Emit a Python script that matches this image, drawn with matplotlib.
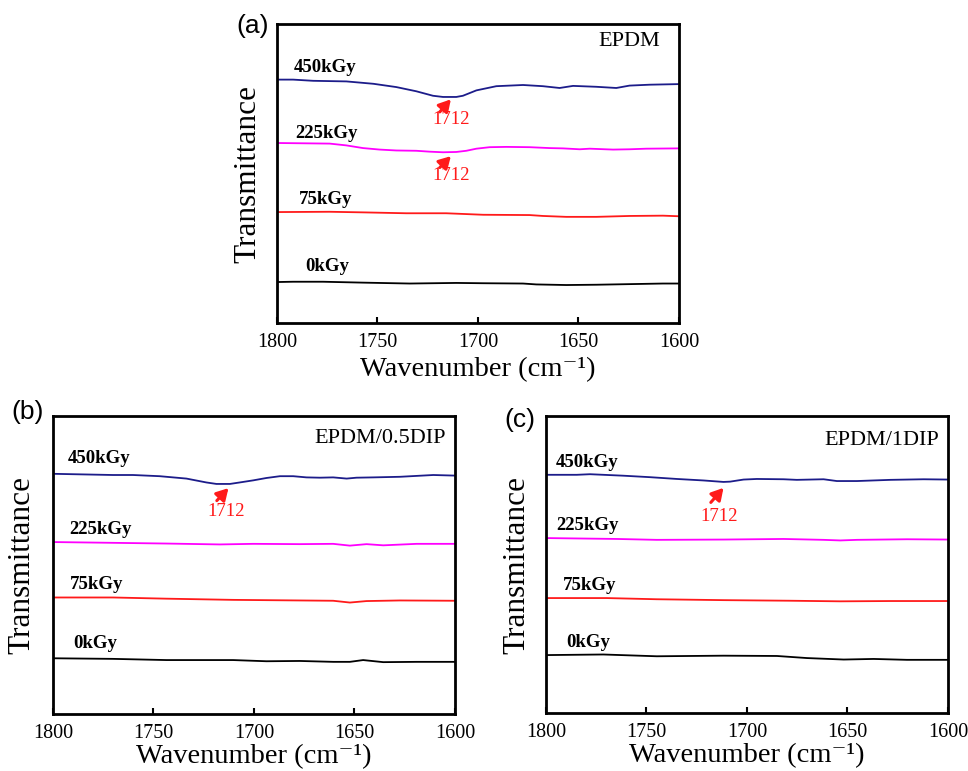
import matplotlib
matplotlib.use("Agg")
import matplotlib.pyplot as plt

# ---------------- data ----------------
doses = ["450kGy", "225kGy", "75kGy", "0kGy"]
colors = ["#1c1c8a", "#ff00ff", "#ff1a1a", "#000000"]

# Panel (a) EPDM
a_450_x = [1800, 1792, 1782, 1765.5, 1752, 1740.6, 1730.7, 1722.4, 1717.4, 1710.8, 1707.5, 1700.8, 1690.9, 1677.6, 1667.7, 1659.4, 1652.7, 1641.1, 1631.2, 1624.6, 1614.6, 1600]
a_450_y = [81.4, 81.4, 81.0, 80.8, 80.0, 78.9, 77.5, 76.0, 75.6, 75.6, 76.0, 77.8, 79.2, 79.6, 79.2, 78.6, 79.3, 79.0, 78.6, 79.4, 79.7, 79.9]
a_225_x = [1800, 1773.8, 1765.5, 1757.2, 1748.9, 1740.6, 1730.7, 1724.0, 1717.4, 1710.8, 1705.8, 1700.8, 1694.2, 1685.9, 1674.3, 1664.3, 1657.7, 1649.4, 1644.4, 1632.8, 1624.6, 1616.3, 1600]
a_225_y = [60.2, 60.0, 59.4, 58.5, 58.0, 57.7, 57.6, 57.3, 57.1, 57.2, 57.6, 58.3, 58.8, 58.9, 58.8, 58.5, 58.4, 58.1, 58.3, 58.0, 58.1, 58.3, 58.4]
a_75_x = [1800, 1773.8, 1757.2, 1735.7, 1715.8, 1697.5, 1674.3, 1667.7, 1656.1, 1641.1, 1624.6, 1608.0, 1600]
a_75_y = [37.1, 37.2, 37.0, 36.7, 36.7, 36.2, 36.1, 35.8, 35.5, 35.5, 35.8, 35.9, 35.7]
a_0_x = [1800, 1792, 1777.1, 1757.2, 1734.0, 1710.8, 1697.5, 1677.6, 1671.0, 1656.1, 1641.1, 1624.6, 1608.0, 1600]
a_0_y = [13.7, 13.8, 13.8, 13.5, 13.2, 13.4, 13.3, 13.2, 12.9, 12.7, 12.8, 13.0, 13.2, 13.2]

# Panel (b) EPDM/0.5DIP
b_450_x = [1800, 1785.1, 1770.1, 1760.2, 1746.9, 1733.6, 1723.7, 1718.7, 1712.0, 1707.1, 1700.4, 1693.8, 1687.1, 1680.5, 1673.9, 1667.2, 1660.6, 1653.9, 1649.0, 1640.7, 1627.4, 1610.8, 1600]
b_450_y = [80.6, 80.4, 80.2, 80.2, 79.8, 79.0, 77.7, 77.2, 77.2, 77.7, 78.4, 79.2, 79.8, 79.8, 79.4, 79.3, 79.4, 79.0, 79.3, 79.4, 79.6, 80.2, 80.0]
b_225_x = [1800, 1776.8, 1743.6, 1717.0, 1700.4, 1677.2, 1660.6, 1652.3, 1644.0, 1635.7, 1619.1, 1600]
b_225_y = [57.7, 57.5, 57.2, 56.9, 57.1, 57.0, 57.1, 56.5, 57.0, 56.6, 57.1, 57.1]
b_75_x = [1800, 1770.1, 1743.6, 1710.4, 1677.2, 1660.6, 1652.3, 1644.0, 1627.4, 1600]
b_75_y = [39.1, 39.1, 38.7, 38.3, 38.1, 38.0, 37.4, 37.9, 38.1, 38.0]
b_0_x = [1800, 1770.1, 1743.6, 1710.4, 1693.8, 1677.2, 1660.6, 1652.3, 1645.7, 1635.7, 1619.1, 1600]
b_0_y = [18.7, 18.5, 18.1, 18.1, 17.7, 17.8, 17.5, 17.5, 18.1, 17.4, 17.5, 17.5]

# Panel (c) EPDM/1DIP
c_450_x = [1800, 1784.7, 1778.1, 1761.5, 1748.2, 1734.9, 1721.7, 1711.7, 1708.4, 1701.7, 1695.1, 1681.8, 1675.2, 1661.9, 1655.3, 1645.3, 1628.7, 1612.1, 1600]
c_450_y = [80.2, 80.2, 80.4, 79.9, 79.4, 78.8, 78.3, 77.8, 77.9, 78.6, 78.8, 78.7, 78.5, 78.7, 78.1, 78.1, 78.5, 78.7, 78.6]
c_225_x = [1800, 1764.8, 1744.9, 1711.7, 1681.8, 1661.9, 1653.6, 1645.3, 1620.4, 1600]
c_225_y = [58.9, 58.6, 58.3, 58.4, 58.6, 58.3, 58.1, 58.3, 58.5, 58.4]
c_75_x = [1800, 1769.8, 1744.9, 1711.7, 1678.5, 1653.6, 1628.7, 1600]
c_75_y = [38.7, 38.7, 38.3, 38.0, 37.8, 37.6, 37.7, 37.7]
c_0_x = [1800, 1771.5, 1744.9, 1711.7, 1685.1, 1670.2, 1651.9, 1637.0, 1620.4, 1600]
c_0_y = [19.5, 19.7, 19.1, 19.3, 19.2, 18.5, 18.0, 18.2, 17.9, 17.9]

xticks = [1800, 1750, 1700, 1650, 1600]

panels = [
    dict(letter="(a)", sample="EPDM",
         xs=[a_450_x, a_225_x, a_75_x, a_0_x], ys=[a_450_y, a_225_y, a_75_y, a_0_y],
         labpos=[(1791.7, 85.3), (1790.9, 63.5), (1789.0, 41.2), (1786.0, 19.0)],
         samplepos=(1609.6, 94.2),
         ann=[((1719.0, 70.6), (1713.5, 74.8), (1713.3, 68.0)),
              ((1719.0, 52.0), (1713.5, 55.8), (1713.3, 49.4))],
         rect=[277/968, 1-323/771, 402/968, 299/771], letterpos=(253, 26),
         ylx=-0.072, xly=-0.178),
    dict(letter="(b)", sample="EPDM/0.5DIP",
         xs=[b_450_x, b_225_x, b_75_x, b_0_x], ys=[b_450_y, b_225_y, b_75_y, b_0_y],
         labpos=[(1792.5, 85.7), (1792.0, 62.0), (1791.4, 43.5), (1789.7, 23.7)],
         samplepos=(1604.5, 92.4),
         ann=[((1718.5, 71.6), (1712.7, 75.8), (1714.0, 68.0))],
         rect=[53/968, 1-714/771, 402/968, 298/771], letterpos=(28, 412),
         ylx=-0.078, xly=-0.165),
    dict(letter="(c)", sample="EPDM/1DIP",
         xs=[c_450_x, c_225_x, c_75_x, c_0_x], ys=[c_450_y, c_225_y, c_75_y, c_0_y],
         labpos=[(1795.0, 84.3), (1794.7, 63.1), (1791.4, 42.9), (1790.0, 23.9)],
         samplepos=(1604.6, 91.7),
         ann=[((1718.0, 70.9), (1711.7, 75.8), (1713.7, 66.1))],
         rect=[546/968, 1-713/771, 402/968, 297/771], letterpos=(520, 420),
         ylx=-0.072, xly=-0.165),
]

serif = ["Liberation Serif", "DejaVu Serif"]
sans = ["Liberation Sans", "DejaVu Sans"]

fig = plt.figure(figsize=(9.68, 7.71), dpi=100)

for p in panels:
    ax = fig.add_axes(p["rect"])
    for x, y, c in zip(p["xs"], p["ys"], colors):
        ax.plot(x, y, color=c, lw=1.3)
    ax.set_xlim(1800, 1600)
    ax.set_ylim(0, 100)
    ax.set_yticks([])
    ax.set_xticks(xticks)
    ax.set_xticklabels([str(t) for t in xticks], family=serif, fontsize=14.5)
    ax.tick_params(axis="x", direction="in", length=4, width=1.5, pad=7)
    for s in ax.spines.values():
        s.set_linewidth(2)
    ax.text(0.5, p["xly"], "Wavenumber (cm\u207b\u00b9)", transform=ax.transAxes,
            family=serif, fontsize=20.5, ha="center", va="baseline")
    ax.text(p["ylx"], 0.5, "Transmittance", transform=ax.transAxes, rotation=90,
            family=serif, fontsize=22.5, ha="center", va="center")
    for (lx, ly), lab in zip(p["labpos"], doses):
        ax.text(lx, ly, lab, family=serif, fontsize=13.5, fontweight="bold",
                ha="left", va="center")
    ax.text(p["samplepos"][0], p["samplepos"][1], p["sample"], family=serif,
            fontsize=16, ha="right", va="center")
    for tail, tip, txt in p["ann"]:
        ax.annotate("", xy=tip, xytext=tail,
                    arrowprops=dict(arrowstyle="-|>,head_length=0.7,head_width=0.4",
                                    color="#ff1a1a", lw=2.2, shrinkA=0, shrinkB=0))
        ax.text(txt[0], txt[1], "1712", family=serif, fontsize=13.5, color="#ff1a1a",
                ha="center", va="center")
    fig.text(p["letterpos"][0]/968, 1-p["letterpos"][1]/771, p["letter"],
             family=sans, fontsize=19, ha="center", va="center")

fig.savefig("out.png", dpi=100)
